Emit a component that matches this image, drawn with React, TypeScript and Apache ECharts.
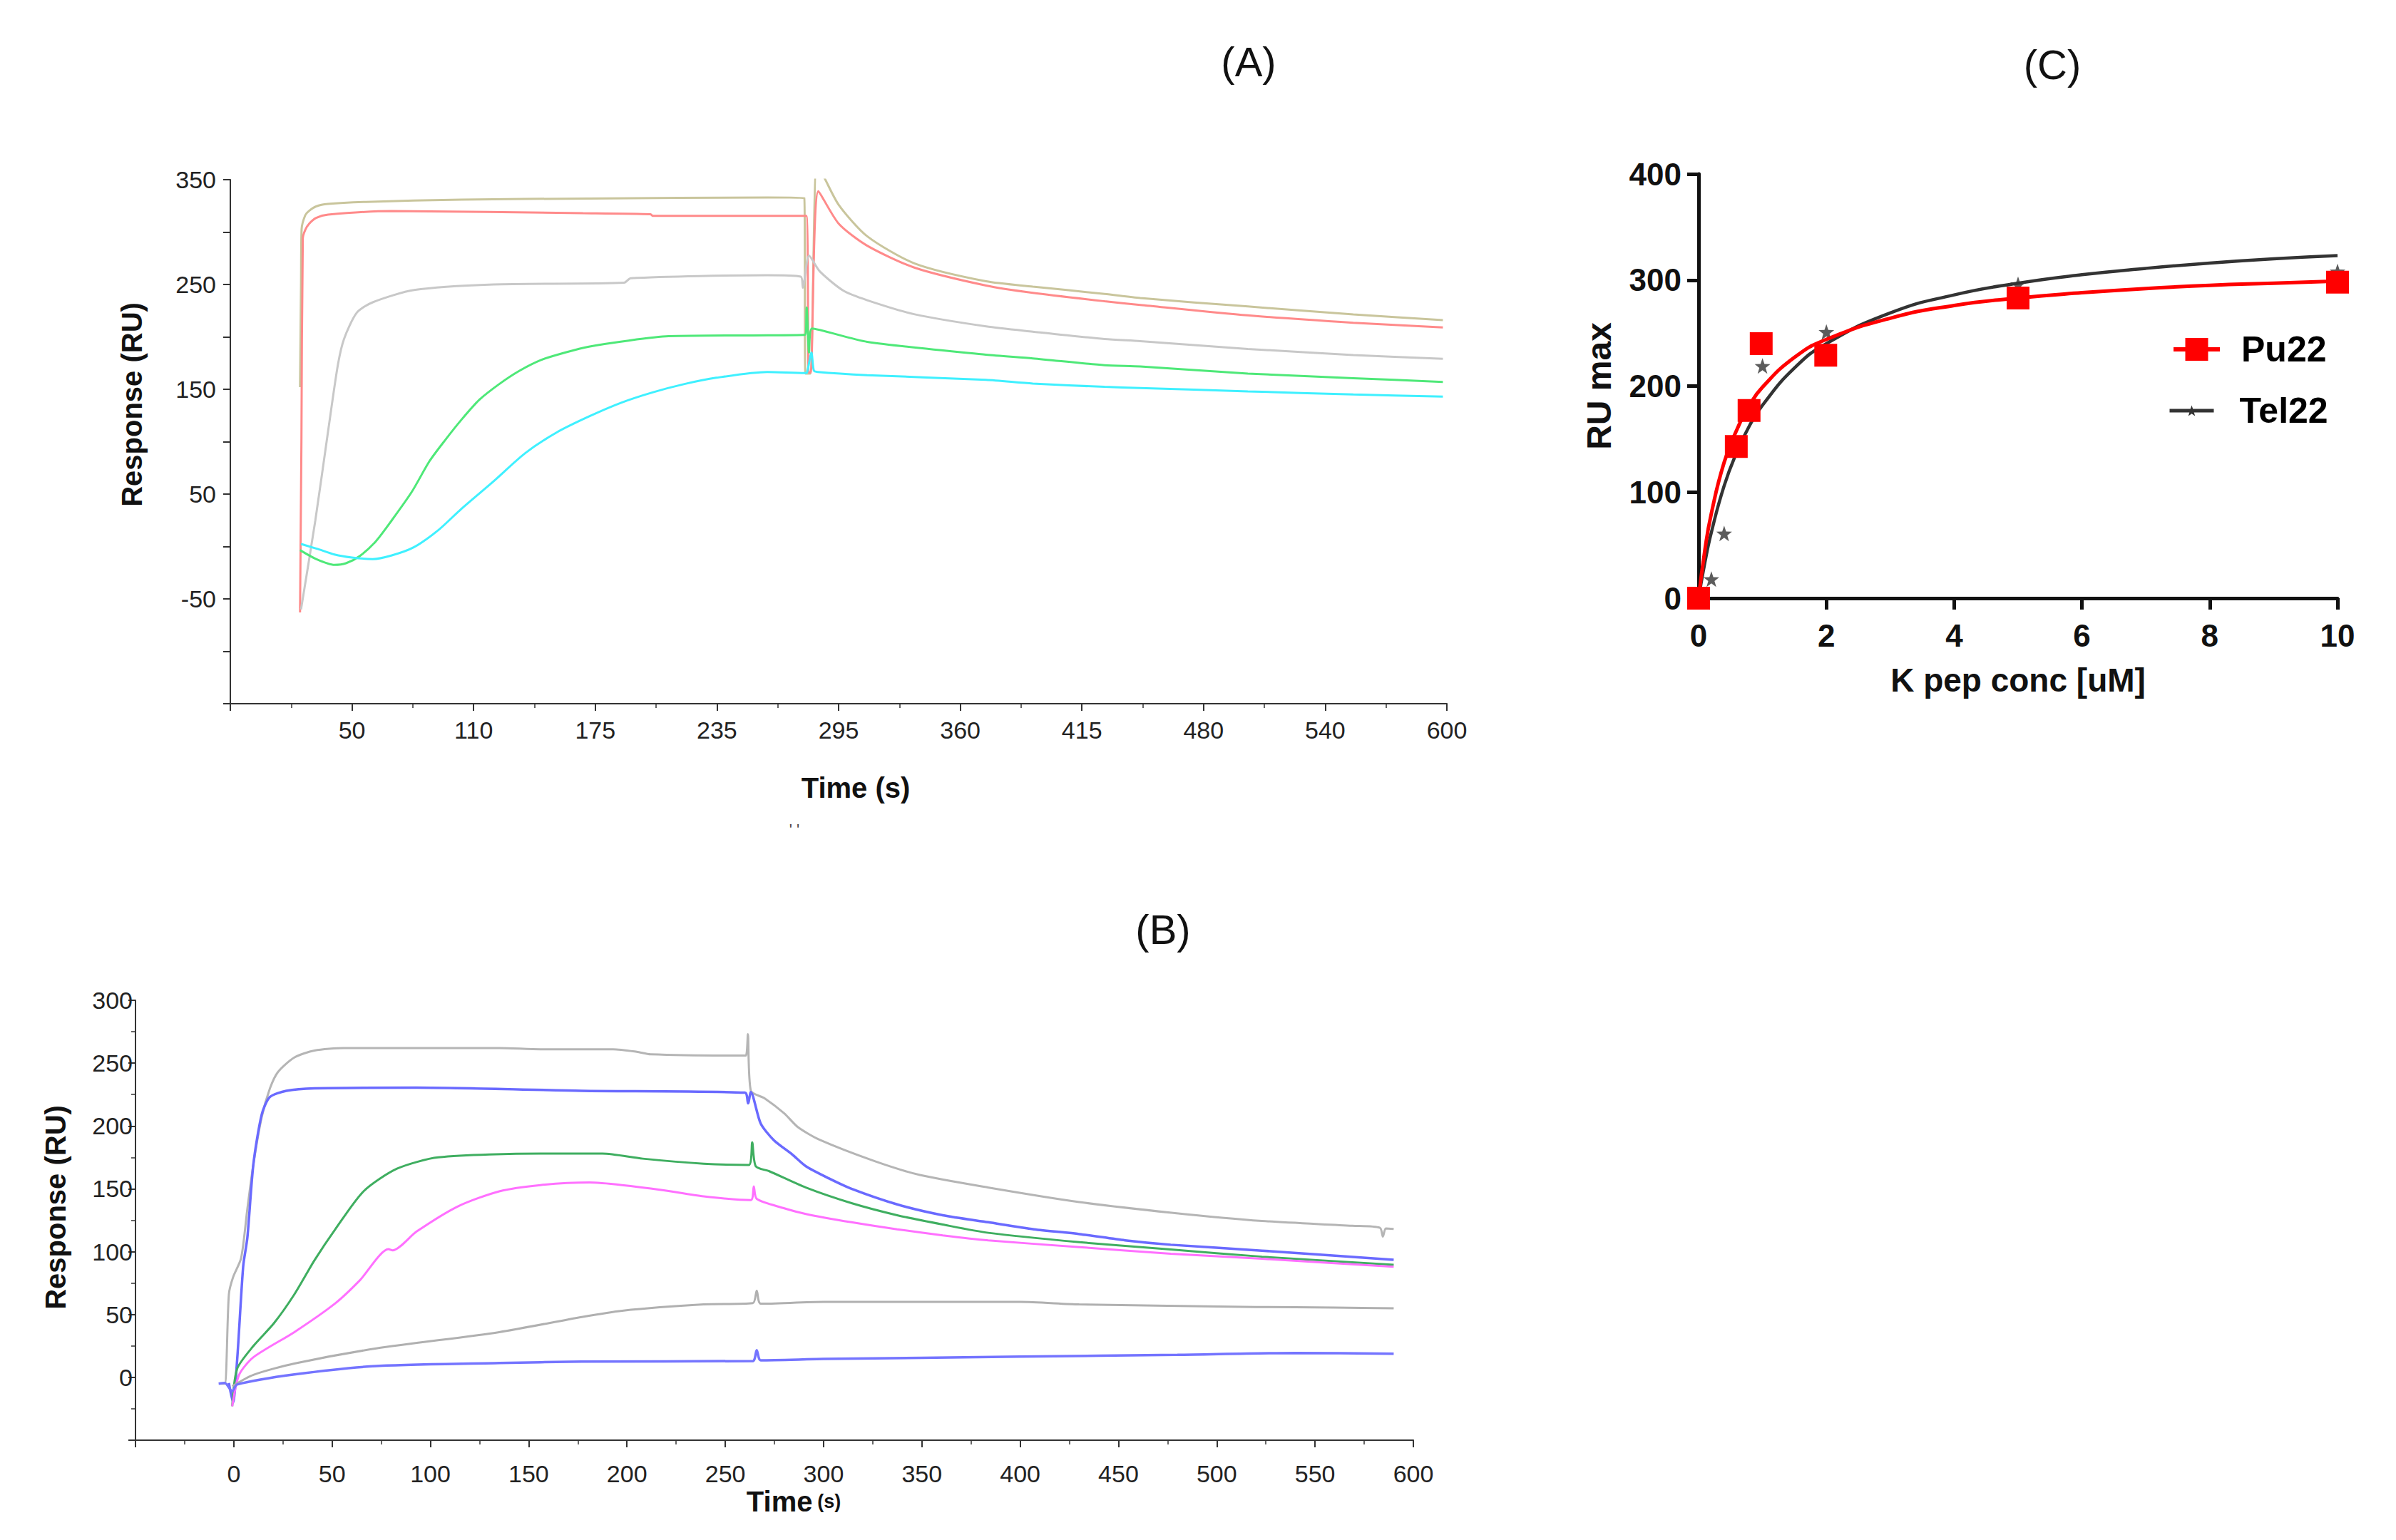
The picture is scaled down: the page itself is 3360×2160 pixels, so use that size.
import React, { useEffect, useRef } from 'react';
import * as echarts from 'echarts';

// ---------- panel A (sensorgram, time in s as labelled) ----------
const aTimeLabels = ['', '50', '110', '175', '235', '295', '360', '415', '480', '540', '600'];
const aStep = 550 / 9; // seconds between two labelled ticks
const aOffset = aStep - 50; // axis starts one step before "50"

const aOlive: [number, number][] = [
  [23.9, 152], [24.4, 250], [24.7, 303], [26.5, 316], [28.3, 320], [32, 324.5], [37.9, 326.8],
  [57, 328.8], [105, 331], [169, 332], [259, 333], [277.2, 332.5], [277.8, 165], [280.2, 165],
  [283.3, 362], [286.1, 356], [294.5, 326], [308.8, 296], [332.7, 270], [368.5, 253], [392, 248],
  [428, 241], [446, 237], [500, 229], [553, 221.5], [598, 216],
];
const aRed: [number, number][] = [
  [23.9, -63], [24.6, 100], [25.3, 294], [26.5, 302], [28.5, 308], [32, 313.5], [38, 316.6],
  [70, 320], [166, 318], [200, 317], [201, 315.5], [278.2, 315.5], [279.4, 166], [280.4, 166],
  [284.3, 339], [294.5, 308], [308.8, 287], [332.7, 266], [368.5, 249], [392, 242], [428, 234],
  [446, 230.5], [500, 220.5], [553, 213.5], [598, 209],
];
const aGray: [number, number][] = [
  [24.4, -60], [31.6, 25], [38, 110], [42.8, 172], [46, 198], [52.4, 223], [60.4, 233],
  [81.2, 244.7], [121, 250], [186.7, 251.7], [190, 256], [258.6, 258.8], [275.4, 257.5],
  [276.5, 247], [279.6, 277.5], [285, 262.5], [296.9, 244], [308.8, 235], [332.7, 221.5],
  [368.5, 210], [392, 205], [428, 198], [446, 196], [500, 188.5], [553, 182.7], [598, 179],
];
const aGreen: [number, number][] = [
  [23.9, -3.5], [32, -12], [41.2, -17.6], [47, -16], [54, -9], [62, 5], [70, 25], [80, 52],
  [89, 81.6], [97, 102], [105, 121], [114, 140], [124, 155], [134, 167.5], [145, 178], [157, 185],
  [169, 190.7], [189, 196.5], [209, 200.6], [259, 201.5], [277.6, 202], [278.4, 228], [279.6, 185],
  [281, 208], [308.8, 195.3], [368.5, 183], [392, 179.5], [428, 173], [446, 171.7], [500, 165],
  [553, 160.6], [598, 157],
];
const aCyan: [number, number][] = [
  [24.4, 2.4], [33, -2.5], [41.2, -7.6], [50, -10.5], [60.4, -12], [70, -8.5], [81, -0.8],
  [93, 15], [105, 36], [121, 62], [137, 89], [153, 109], [169, 124], [185, 137], [201, 147],
  [217, 155], [233, 161], [258.6, 166.5], [277.5, 165.5], [278.6, 166], [280.8, 185], [282, 168],
  [284, 166.5], [308.8, 163.5], [368.5, 159], [392, 155.5], [428, 152.3], [446, 151.2], [500, 148],
  [553, 145], [598, 143],
];

// ---------- panel B (sensorgram) ----------
const bGrayTop: [number, number][] = [
  [-7, -5], [-4.6, -5], [-2.5, 66], [-0.4, 79.5], [3.75, 95], [6.9, 134], [10, 170], [14.2, 207],
  [18.3, 229.5], [22.5, 243], [30.8, 254.5], [41, 260], [56, 262], [135, 262], [156, 261],
  [193, 261], [205, 259], [212, 257], [258, 256], [260.5, 256], [261.5, 273], [263, 228],
  [270, 222], [280, 210], [287, 199], [298, 189], [326, 172], [349, 161], [384, 151], [430, 139.5],
  [477, 131], [523, 124.4], [569, 120.6], [583, 119], [584.5, 112], [586, 118.5], [590, 118],
];
const bBlueTop: [number, number][] = [
  [-2.5, -4.5], [-0.4, -20], [1.7, 13.6], [4.8, 88.6], [6.9, 111], [10, 170], [14.2, 209],
  [18.3, 223], [26.7, 228], [41, 230], [93, 230.5], [177, 228], [260, 226.5], [261.6, 218],
  [263, 227], [268, 202], [274.7, 188.7], [284, 177.4], [291, 168], [302.6, 158.4], [314.2, 150],
  [337.4, 137.6], [360.6, 129], [383.8, 123.4], [407, 117.8], [430.2, 114], [453.4, 109],
  [476.6, 105.5], [523, 100.8], [590, 93.5],
];
const bGreen: [number, number][] = [
  [-0.8, -23], [1.7, 6.8], [10, 25], [20.4, 43], [30.8, 66], [41, 93], [51.7, 118], [66, 148],
  [83, 166], [104, 175], [156, 178], [187.5, 178], [208, 174], [239, 170], [262, 169],
  [263.7, 187], [265.5, 168], [272.4, 164], [291, 151], [314.2, 138.6], [337.4, 129],
  [360.6, 121.6], [383.8, 115], [430.2, 107.5], [476.6, 101.7], [523, 96], [590, 89.5],
];
const bMagenta: [number, number][] = [
  [-0.8, -23], [2.7, 2], [10, 16], [30.8, 36], [51.7, 59], [64, 77], [78.7, 102], [80.8, 101],
  [93, 116], [114, 136], [135, 148], [156, 153], [181, 155], [197.5, 153], [218, 149], [239, 144],
  [263, 141], [264.5, 152], [266, 142], [279.4, 134.8], [291, 130], [314.2, 123.4], [337.4, 117.8],
  [360.6, 113], [383.8, 109], [430.2, 103.6], [476.6, 98.4], [523, 94.3], [590, 88],
];
const bGrayLow: [number, number][] = [
  [-0.8, -7], [10, 2], [30.8, 11], [72.5, 23], [135, 36], [177, 48], [197.5, 53], [239, 58],
  [264, 59], [266, 69], [268, 58.6], [300, 60], [400, 60], [430, 58], [520, 56], [560, 55.5],
  [590, 55],
];
const bBlueLow: [number, number][] = [
  [-7.7, -5], [-4.6, -4.5], [-0.8, -11], [1.7, -5.7], [30.8, 2.3], [72.5, 9], [135, 11.4],
  [177, 12.5], [264, 13], [266, 21.6], [268, 13.6], [300, 14.6], [400, 16.5], [480, 17.9],
  [540, 19.4], [590, 18.8],
];

// ---------- panel C (RU max vs K pep conc) ----------
const pu22Conc = [0, 0.59, 0.79, 0.98, 1.99, 5, 10];
const pu22Ru = [0, 143, 177, 240, 229, 283, 298];
const tel22Conc = [0, 0.2, 0.4, 1, 2, 5, 10];
const tel22Ru = [0, 18, 61, 219, 251, 296, 308];
const fitConc = [0, 0.1, 0.2, 0.4, 0.6, 0.8, 1, 1.5, 2, 3, 4, 5, 6, 7, 8, 9, 10];
const pu22Fit = [0, 46, 80, 128, 159, 182, 199, 227, 244, 264, 276, 283, 288, 292, 295, 297, 299];
const tel22Fit = [0, 34, 62, 106, 138, 163, 182, 217, 240, 269, 286, 297, 305, 311, 316, 320, 323];

const starPath =
  'path://M0,-10 L2.35,-3.24 L9.51,-3.09 L3.8,1.24 L5.88,8.09 L0,4 L-5.88,8.09 L-3.8,1.24 L-9.51,-3.09 L-2.35,-3.24 Z';

const FONT = '"Liberation Sans", Arial, sans-serif';
const toAxisA = (t: number) => ((t + aOffset) / aStep) * 100;

const sensorLine = (name: string, pts: [number, number][], color: string, idx: number, conv?: (t: number) => number, width = 3) => ({
  name,
  type: 'line',
  xAxisIndex: idx,
  yAxisIndex: idx,
  data: pts.map(([t, v]) => [conv ? conv(t) : t, v]),
  showSymbol: false,
  symbol: 'none',
  smooth: 0.25,
  lineStyle: { color, width },
  itemStyle: { color },
  z: 2,
});

const App: React.FC = () => {
  const chartRef = useRef<HTMLDivElement>(null);

  useEffect(() => {
    if (!chartRef.current) return;
    const chart = echarts.init(chartRef.current, undefined, { renderer: 'svg' });

    const thinAxis = { show: true, onZero: false, lineStyle: { color: '#333', width: 2 } };
    const thinTick = { show: true, length: 10, lineStyle: { color: '#333', width: 2 } };
    const thinMinor = { show: true, splitNumber: 2, length: 6, lineStyle: { color: '#333', width: 1.5 } };
    const tickFont = { fontFamily: FONT, fontSize: 34, color: '#222' };
    const nameFont = { fontFamily: FONT, fontSize: 40, fontWeight: 'bold', color: '#111' };
    const legendText = { fontFamily: FONT, fontSize: 50, fontWeight: 'bold', color: '#000' };

    const option = {
      animation: false,
      backgroundColor: '#fff',
      grid: [
        { left: 323, top: 252, width: 1706, height: 735 },
        { left: 190, top: 1403, width: 1792, height: 617 },
        { left: 2382, top: 244, width: 896, height: 595 },
      ],
      xAxis: [
        {
          gridIndex: 0,
          type: 'value',
          min: 0,
          max: 1000,
          interval: 100,
          axisLine: thinAxis,
          axisTick: thinTick,
          minorTick: thinMinor,
          splitLine: { show: false },
          axisLabel: {
            ...tickFont,
            margin: 20,
            formatter: (v: number) => aTimeLabels[Math.round(v / 100)] ?? '',
          },
          name: 'Time (s)',
          nameLocation: 'middle',
          nameGap: 98,
          nameTextStyle: { ...nameFont, padding: [0, 0, 0, 48] },
        },
        {
          gridIndex: 1,
          type: 'value',
          min: -50,
          max: 600,
          interval: 50,
          axisLine: thinAxis,
          axisTick: thinTick,
          minorTick: thinMinor,
          splitLine: { show: false },
          axisLabel: {
            ...tickFont,
            margin: 30,
            formatter: (v: number) => (v < 0 ? '' : String(v)),
          },
          name: '{a|Time}  {b|(s)}',
          nameLocation: 'middle',
          nameGap: 66,
          nameTextStyle: {
            padding: [0, 0, 0, 54],
            rich: {
              a: { fontFamily: FONT, fontSize: 40, fontWeight: 'bold', color: '#111' },
              b: { fontFamily: FONT, fontSize: 27, fontWeight: 'bold', color: '#111' },
            },
          },
        },
        {
          gridIndex: 2,
          type: 'value',
          min: 0,
          max: 10,
          interval: 2,
          axisLine: { show: true, onZero: false, lineStyle: { color: '#111', width: 5 } },
          axisTick: { show: true, length: 16, lineStyle: { color: '#111', width: 5 } },
          splitLine: { show: false },
          axisLabel: { fontFamily: FONT, fontSize: 44, fontWeight: 'bold', color: '#111', margin: 30 },
          name: 'K pep conc [uM]',
          nameLocation: 'middle',
          nameGap: 92,
          nameTextStyle: { fontFamily: FONT, fontSize: 46, fontWeight: 'bold', color: '#111' },
        },
      ],
      yAxis: [
        {
          gridIndex: 0,
          type: 'value',
          min: -150,
          max: 350,
          interval: 50,
          axisLine: thinAxis,
          axisTick: thinTick,
          splitLine: { show: false },
          axisLabel: {
            ...tickFont,
            margin: 20,
            formatter: (v: number) => (v > -150 && (v - 350) % 100 === 0 ? String(v) : ''),
          },
          name: 'Response (RU)',
          nameLocation: 'middle',
          nameGap: 118,
          nameTextStyle: { ...nameFont, padding: [0, 0, 0, 104] },
        },
        {
          gridIndex: 1,
          type: 'value',
          min: -50,
          max: 300,
          interval: 50,
          axisLine: thinAxis,
          axisTick: thinTick,
          minorTick: thinMinor,
          splitLine: { show: false },
          axisLabel: {
            ...tickFont,
            margin: 4,
            formatter: (v: number) => (v < 0 ? '' : String(v)),
          },
          name: 'Response (RU)',
          nameLocation: 'middle',
          nameGap: 92,
          nameTextStyle: { ...nameFont, padding: [0, 0, 0, 36] },
        },
        {
          gridIndex: 2,
          type: 'value',
          min: 0,
          max: 400,
          interval: 100,
          axisLine: { show: true, onZero: false, lineStyle: { color: '#111', width: 5 } },
          axisTick: { show: true, length: 16, lineStyle: { color: '#111', width: 5 } },
          splitLine: { show: false },
          axisLabel: { fontFamily: FONT, fontSize: 44, fontWeight: 'bold', color: '#111', margin: 24 },
          name: 'RU max',
          nameLocation: 'middle',
          nameGap: 116,
          nameTextStyle: { fontFamily: FONT, fontSize: 48, fontWeight: 'bold', color: '#111' },
        },
      ],
      legend: [
        {
          data: ['Pu22'],
          left: 3040,
          top: 460,
          itemWidth: 65,
          itemHeight: 40,
          selectedMode: false,
          lineStyle: { width: 6 },
          textStyle: { ...legendText, padding: [0, 0, 0, 25] },
        },
        {
          data: ['Tel22'],
          left: 3035,
          top: 546,
          itemWidth: 62,
          itemHeight: 19,
          selectedMode: false,
          lineStyle: { width: 5 },
          textStyle: { ...legendText, padding: [0, 0, 0, 31] },
        },
      ],
      graphic: [
        { type: 'text', x: 1751, y: 86, style: { text: '(A)', fontFamily: FONT, fontSize: 58, fill: '#111', textAlign: 'center', textVerticalAlign: 'middle' } },
        { type: 'text', x: 1631, y: 1303, style: { text: '(B)', fontFamily: FONT, fontSize: 58, fill: '#111', textAlign: 'center', textVerticalAlign: 'middle' } },
        { type: 'text', x: 2878, y: 90, style: { text: '(C)', fontFamily: FONT, fontSize: 58, fill: '#111', textAlign: 'center', textVerticalAlign: 'middle' } },
        { type: 'text', x: 1114, y: 1163, style: { text: "' '", fontFamily: FONT, fontSize: 22, fill: '#444', textAlign: 'center', textVerticalAlign: 'middle' } },
      ],
      series: [
        sensorLine('A olive', aOlive, '#c9c59c', 0, toAxisA),
        sensorLine('A red', aRed, '#ff8a8a', 0, toAxisA),
        sensorLine('A gray', aGray, '#c8c8c8', 0, toAxisA),
        sensorLine('A green', aGreen, '#4ee878', 0, toAxisA),
        sensorLine('A cyan', aCyan, '#3ff0ff', 0, toAxisA),
        sensorLine('B gray top', bGrayTop, '#b5b5b5', 1),
        sensorLine('B blue top', bBlueTop, '#6a6aff', 1, undefined, 3.5),
        sensorLine('B green', bGreen, '#3fae60', 1),
        sensorLine('B magenta', bMagenta, '#ff70ff', 1),
        sensorLine('B gray low', bGrayLow, '#b0b0b0', 1),
        sensorLine('B blue low', bBlueLow, '#7474ff', 1, undefined, 3.5),
        {
          name: 'Tel22',
          type: 'line',
          xAxisIndex: 2,
          yAxisIndex: 2,
          data: fitConc.map((c, i) => [c, tel22Fit[i]]),
          smooth: true,
          showSymbol: false,
          symbol: starPath,
          lineStyle: { color: '#333', width: 4.5 },
          itemStyle: { color: '#333' },
          z: 3,
        },
        {
          name: 'Tel22 data',
          type: 'scatter',
          xAxisIndex: 2,
          yAxisIndex: 2,
          data: tel22Conc.map((c, i) => [c, tel22Ru[i]]),
          symbol: starPath,
          symbolSize: 22,
          itemStyle: { color: '#333' },
          z: 4,
        },
        {
          name: 'Pu22',
          type: 'line',
          xAxisIndex: 2,
          yAxisIndex: 2,
          data: fitConc.map((c, i) => [c, pu22Fit[i]]),
          smooth: true,
          showSymbol: false,
          symbol: 'rect',
          lineStyle: { color: '#ff0000', width: 5 },
          itemStyle: { color: '#ff0000' },
          z: 5,
        },
        {
          name: 'Pu22 data',
          type: 'scatter',
          xAxisIndex: 2,
          yAxisIndex: 2,
          data: pu22Conc.map((c, i) => [c, pu22Ru[i]]),
          symbol: 'rect',
          symbolSize: 32,
          itemStyle: { color: '#ff0000', opacity: 1 },
          clip: false,
          z: 6,
        },
      ],
    };

    chart.setOption(option);

    return () => {
      chart.dispose();
    };
  }, []);

  return (
    <div
      ref={chartRef}
      style={{ position: 'absolute', left: 0, top: 0, width: '3360px', height: '2160px', background: '#fff' }}
    />
  );
};

export default App;
